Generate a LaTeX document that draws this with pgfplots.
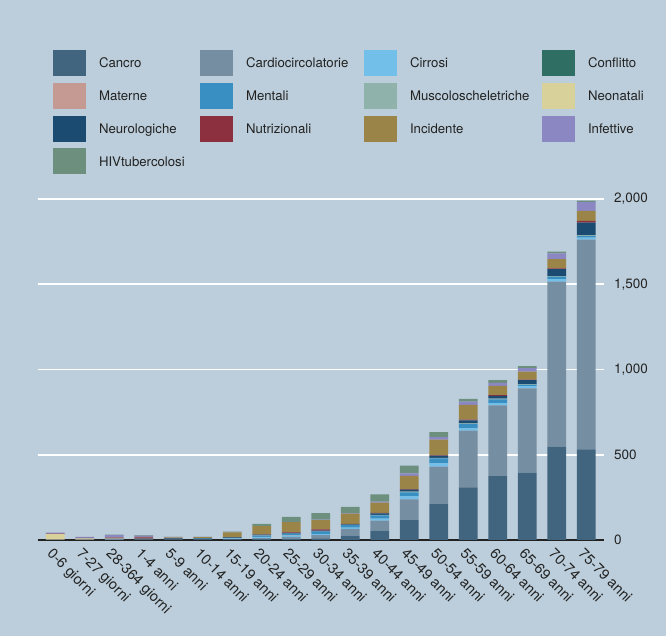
\documentclass[border=0pt]{standalone}
\usepackage{fontspec}
\setmainfont{TeX Gyre Heros}
\usepackage{pgfplots}
\usepackage{pgfplotstable}
\pgfplotsset{compat=1.18}

\definecolor{bg}{HTML}{BCCEDB}
\definecolor{cCan}{HTML}{41647F}
\definecolor{cCar}{HTML}{768EA2}
\definecolor{cCir}{HTML}{72C0EA}
\definecolor{cCon}{HTML}{2E6E63}
\definecolor{cMat}{HTML}{C49A93}
\definecolor{cMen}{HTML}{3A8FC2}
\definecolor{cMus}{HTML}{8FB3AA}
\definecolor{cNeo}{HTML}{D9D19A}
\definecolor{cNeu}{HTML}{1B4B70}
\definecolor{cNut}{HTML}{8C3040}
\definecolor{cInc}{HTML}{9B8448}
\definecolor{cInf}{HTML}{8A87C2}
\definecolor{cHIV}{HTML}{6C8F7E}
\definecolor{txt}{HTML}{222222}

\pgfplotstableread{
x  Can  Car  Cir Con Mat Men Mus Neo Neu Nut Inc Inf HIV
0  0    2    0   0   0   0   0   33  0   2   0   6   0
1  0    2    0   0   0   0   0   8   1   1   0   6   0
2  1    4    0   0   0   0   0   3   2   4   1   13  4
3  2    2    0   0   0   1   0   1   2   8   3   7   2
4  4    3    0   0   0   0   0   0   3   1   5   2   1
5  4    3    0   0   0   1   0   0   3   0   6   1   1
6  4    3    2   0   1   3   0   0   3   1   28  1   3
7  5    6    6   0   1   8   1   0   4   2   48  1   12
8  8    10   8   0   1   10  1   0   4   3   60  2   28
9  10   18   6   0   1   15  1   0   4   7   55  3   38
10 25   40   8   0   0   14  1   0   4   2   60  4   36
11 55   58   13  0   0   19  2   0   9   3   60  6   43
12 117  121  18  0   0   24  3   0   12  3   78  15  45
13 211  219  20  0   0   28  3   0   14  3   90  16  28
14 309  332  14  0   0   26  3   0   18  4   86  20  15
15 375  415  13  0   0   22  4   0   17  3   55  18  15
16 395  495  12  0   0   8   3   0   24  4   47  20  12
17 547  968  15  0   0   14  4   0   40  5   55  33  10
18 532  1230 12  0   0   8   5   0   75  10  58  52  8
}\data

\newcommand{\LA}[1]{\hspace*{13pt}\makebox[101pt][l]{#1}}
\newcommand{\LB}[1]{\hspace*{13pt}\makebox[118pt][l]{#1}}
\newcommand{\LC}[1]{\hspace*{13pt}\makebox[132pt][l]{#1}}
\newcommand{\LD}[1]{\hspace*{13pt}#1}

\begin{document}
\begin{tikzpicture}
\fill[bg] (0,0) rectangle (666pt,636pt);
\begin{axis}[
  at={(37.6pt,96pt)}, anchor=south west,
  scale only axis, width=566.4pt, height=341pt,
  ybar stacked, bar width=0.64,
  xmin=-0.6, xmax=18.6, ymin=0, ymax=2000,
  axis x line*=bottom, axis y line*=right,
  x axis line style={draw=txt, line width=1.3pt},
  y axis line style={draw=none},
  ytick={0,500,1000,1500,2000},
  ymajorgrids, grid style={white, line width=1.8pt},
  major tick length=0pt,
  xtick=data,
  xticklabels={0-6 giorni,7-27 giorni,28-364 giorni,1-4 anni,5-9 anni,10-14 anni,15-19 anni,20-24 anni,25-29 anni,30-34 anni,35-39 anni,40-44 anni,45-49 anni,50-54 anni,55-59 anni,60-64 anni,65-69 anni,70-74 anni,75-79 anni},
  xticklabel style={rotate=-45, anchor=north west, inner sep=1pt, xshift=3pt, yshift=-5pt, font=\fontsize{14.5pt}{16pt}\selectfont, text=txt},
  yticklabel style={anchor=west, inner sep=0pt, xshift=10pt, font=\fontsize{13.5pt}{15pt}\selectfont, text=txt},
  /pgf/number format/assume math mode=true,
  /pgf/number format/1000 sep={,},
  scaled y ticks=false,
  legend columns=4,
  legend cell align=left,
  legend image code/.code={\fill[#1,draw=none] (0pt,-13pt) rectangle (33pt,13pt);},
  legend style={
    at={(0.0272,1.437)}, anchor=north west,
    draw=none, fill=none, inner sep=0pt, outer sep=0pt,
    /tikz/column sep=0pt, /tikz/row sep=6.8pt,
    nodes={inner sep=0pt, text height=9.6pt, text depth=0pt, text=txt},
    font=\fontsize{13.2pt}{15pt}\selectfont,
  },
]
\addplot[fill=cCan, draw=none] table[x=x,y=Can]{\data}; \addlegendentry{\LA{Cancro}}
\addplot[fill=cCar, draw=none] table[x=x,y=Car]{\data}; \addlegendentry{\LB{Cardiocircolatorie}}
\addplot[fill=cCir, draw=none] table[x=x,y=Cir]{\data}; \addlegendentry{\LC{Cirrosi}}
\addplot[fill=cCon, draw=none] table[x=x,y=Con]{\data}; \addlegendentry{\LD{Conflitto}}
\addplot[fill=cMat, draw=none] table[x=x,y=Mat]{\data}; \addlegendentry{\LA{Materne}}
\addplot[fill=cMen, draw=none] table[x=x,y=Men]{\data}; \addlegendentry{\LB{Mentali}}
\addplot[fill=cMus, draw=none] table[x=x,y=Mus]{\data}; \addlegendentry{\LC{Muscoloscheletriche}}
\addplot[fill=cNeo, draw=none] table[x=x,y=Neo]{\data}; \addlegendentry{\LD{Neonatali}}
\addplot[fill=cNeu, draw=none] table[x=x,y=Neu]{\data}; \addlegendentry{\LA{Neurologiche}}
\addplot[fill=cNut, draw=none] table[x=x,y=Nut]{\data}; \addlegendentry{\LB{Nutrizionali}}
\addplot[fill=cInc, draw=none] table[x=x,y=Inc]{\data}; \addlegendentry{\LC{Incidente}}
\addplot[fill=cInf, draw=none] table[x=x,y=Inf]{\data}; \addlegendentry{\LD{Infettive}}
\addplot[fill=cHIV, draw=none] table[x=x,y=HIV]{\data}; \addlegendentry{\LA{HIVtubercolosi}}
\end{axis}
\end{tikzpicture}
\end{document}
